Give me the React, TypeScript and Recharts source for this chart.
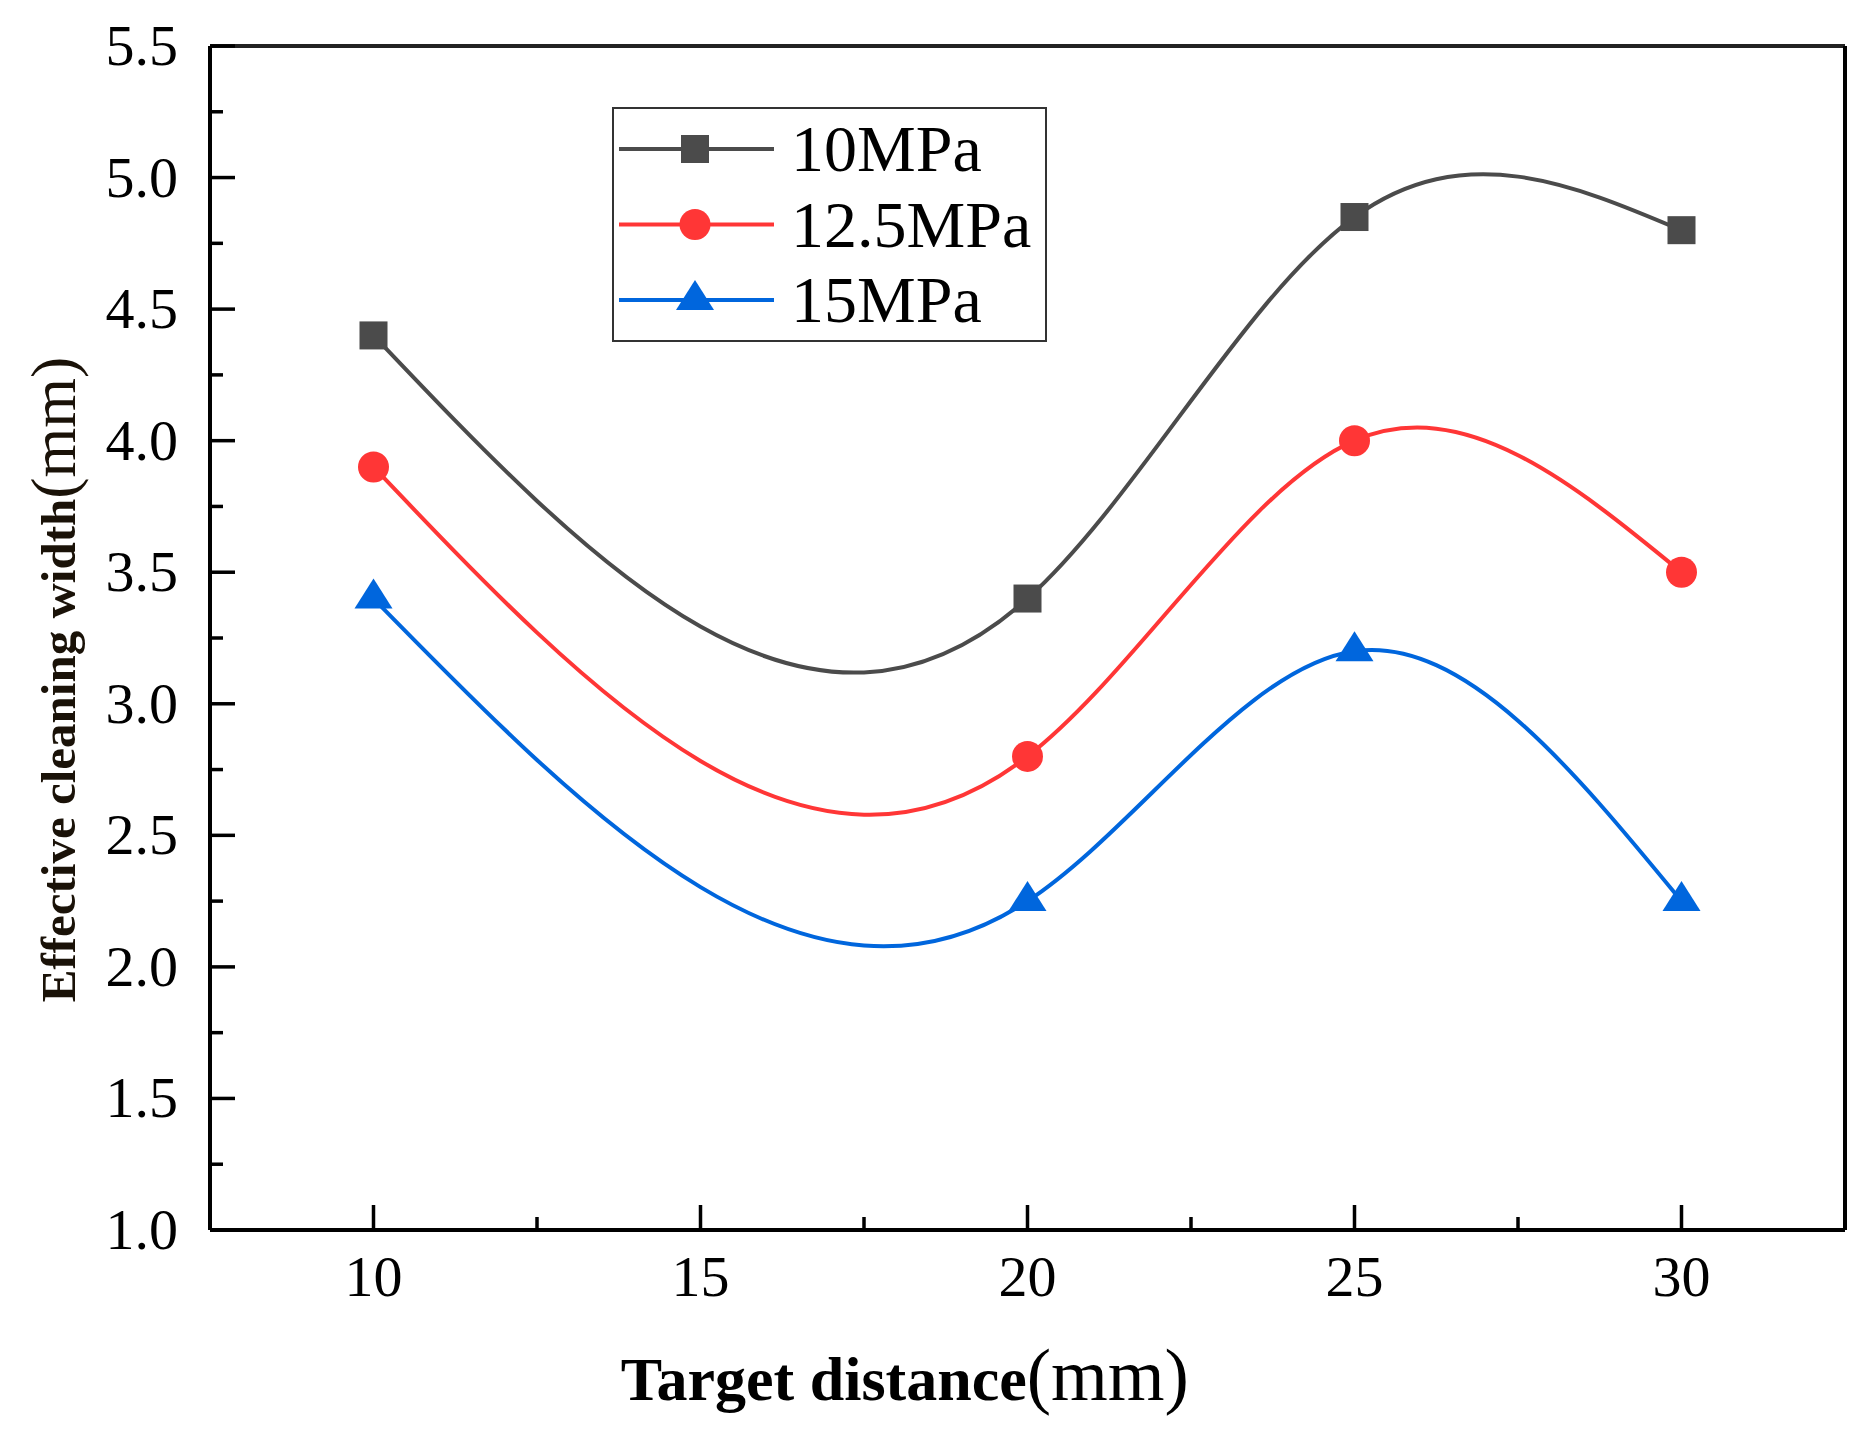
import { Label, Legend, Line, LineChart, ReferenceLine, XAxis, YAxis } from "recharts";

const distances = [10, 20, 25, 30];
const width10MPa = [4.4, 3.4, 4.85, 4.8];
const width125MPa = [3.9, 2.8, 4.0, 3.5];
const width15MPa = [3.4, 2.25, 3.2, 2.25];

const seriesNames = ["10MPa", "12.5MPa", "15MPa"];
const seriesKeys = ["p10", "p125", "p15"];
const seriesColors = ["#4b4b4b", "#ff3636", "#0066dd"];
const seriesShapes = ["square", "circle", "triangle"];

const xTicks = [10, 12.5, 15, 17.5, 20, 22.5, 25, 27.5, 30];
const xTickLabels = ["10", "15", "20", "25", "30"];
const yTicks = [1, 1.25, 1.5, 1.75, 2, 2.25, 2.5, 2.75, 3, 3.25, 3.5, 3.75, 4, 4.25, 4.5, 4.75, 5, 5.25, 5.5];
const yTickLabels = ["1.0", "1.5", "2.0", "2.5", "3.0", "3.5", "4.0", "4.5", "5.0", "5.5"];

const data = distances.map((d, i) => ({
  distance: d,
  p10: width10MPa[i],
  p125: width125MPa[i],
  p15: width15MPa[i],
}));

const FONT = "'Liberation Serif', 'Times New Roman', serif";
const X_TICK_GAP = 66;
const Y_TICK_GAP = 32;

// natural cubic spline in x (like Origin's spline connect)
const splineX = (context: any) => {
  let xs: number[] = [];
  let ys: number[] = [];
  return {
    areaStart() {},
    areaEnd() {},
    lineStart() {
      xs = [];
      ys = [];
    },
    point(x: number, y: number) {
      xs.push(+x);
      ys.push(+y);
    },
    lineEnd() {
      const n = xs.length;
      if (!n) return;
      context.moveTo(xs[0], ys[0]);
      if (n < 3) {
        for (let i = 1; i < n; i++) context.lineTo(xs[i], ys[i]);
        return;
      }
      const h: number[] = [];
      for (let i = 0; i < n - 1; i++) h.push(xs[i + 1] - xs[i]);
      const a: number[] = [];
      const b: number[] = [];
      const c: number[] = [];
      const r: number[] = [];
      for (let i = 1; i < n - 1; i++) {
        a.push(h[i - 1]);
        b.push(2 * (h[i - 1] + h[i]));
        c.push(h[i]);
        r.push(6 * ((ys[i + 1] - ys[i]) / h[i] - (ys[i] - ys[i - 1]) / h[i - 1]));
      }
      const m = r.length;
      for (let i = 1; i < m; i++) {
        const w = a[i] / b[i - 1];
        b[i] -= w * c[i - 1];
        r[i] -= w * r[i - 1];
      }
      const sol = new Array(m).fill(0);
      sol[m - 1] = r[m - 1] / b[m - 1];
      for (let i = m - 2; i >= 0; i--) sol[i] = (r[i] - c[i] * sol[i + 1]) / b[i];
      const M = [0, ...sol, 0];
      for (let i = 0; i < n - 1; i++) {
        const hi = h[i];
        const s = (ys[i + 1] - ys[i]) / hi;
        const d0 = s - (hi * (2 * M[i] + M[i + 1])) / 6;
        const d1 = s + (hi * (M[i] + 2 * M[i + 1])) / 6;
        context.bezierCurveTo(
          xs[i] + hi / 3,
          ys[i] + (d0 * hi) / 3,
          xs[i + 1] - hi / 3,
          ys[i + 1] - (d1 * hi) / 3,
          xs[i + 1],
          ys[i + 1]
        );
      }
    },
  };
};

const Marker = ({ shape, cx, cy, color }: { shape: string; cx: number; cy: number; color: string }) => {
  if (shape === "square")
    return <rect x={cx - 14} y={cy - 14} width={28} height={28} fill={color} />;
  if (shape === "circle") return <circle cx={cx} cy={cy} r={15.5} fill={color} />;
  return (
    <polygon
      points={`${cx},${cy - 20} ${cx - 19},${cy + 10} ${cx + 19},${cy + 10}`}
      fill={color}
    />
  );
};

const XTick = ({ x, y, payload }: any) => {
  const label = String(payload.value);
  const major = xTickLabels.includes(label);
  const axisY = y - X_TICK_GAP;
  return (
    <g>
      <line x1={x} x2={x} y1={axisY} y2={axisY - (major ? 25 : 13)} stroke="#000" strokeWidth={3.5} />
      {major && (
        <text x={x} y={y} textAnchor="middle" fontFamily={FONT} fontSize={58} fill="#000">
          {label}
        </text>
      )}
    </g>
  );
};

const YTick = ({ x, y, payload }: any) => {
  const label = Number(payload.value).toFixed(1);
  const major = yTickLabels.includes(label) && Math.abs(payload.value * 2 - Math.round(payload.value * 2)) < 1e-9;
  const axisX = x + Y_TICK_GAP;
  return (
    <g>
      <line x1={axisX} x2={axisX + (major ? 25 : 13)} y1={y} y2={y} stroke="#000" strokeWidth={3.5} />
      {major && (
        <text x={x} y={y + 19} textAnchor="end" fontFamily={FONT} fontSize={58} fill="#000">
          {label}
        </text>
      )}
    </g>
  );
};

const renderLegend = () => (
  <div
    style={{
      width: 435,
      height: 235,
      border: "2px solid #333",
      boxSizing: "border-box",
      background: "#fff",
    }}
  >
    <svg width={431} height={231} style={{ display: "block" }}>
      {seriesNames.map((name, i) => {
        const rowY = 40 + i * 75.5;
        return (
          <g key={name}>
            <line x1={5} x2={160} y1={rowY} y2={rowY} stroke={seriesColors[i]} strokeWidth={4} />
            <Marker shape={seriesShapes[i]} cx={81} cy={rowY} color={seriesColors[i]} />
            <text x={177} y={rowY + 22} fontFamily={FONT} fontSize={66} fill="#000">
              {name}
            </text>
          </g>
        );
      })}
    </svg>
  </div>
);

const XLabel = ({ viewBox }: any) => {
  const cx = viewBox.x + viewBox.width * 0.425;
  const cy = viewBox.y + 170;
  return (
    <text x={cx} y={cy} textAnchor="middle" fontFamily={FONT} fill="#000">
      <tspan fontSize={62} fontWeight="bold">Target distance</tspan>
      <tspan fontSize={73}>(mm)</tspan>
    </text>
  );
};

const YLabel = ({ viewBox }: any) => {
  const cx = 75;
  const cy = viewBox.y + viewBox.height * 0.535;
  return (
    <text
      x={cx}
      y={cy}
      textAnchor="middle"
      fontFamily={FONT}
      fill="#1a1208"
      transform={`rotate(-90, ${cx}, ${cy})`}
    >
      <tspan fontSize={49} fontWeight="bold">Effective cleaning width</tspan>
      <tspan fontSize={64}>(mm)</tspan>
    </text>
  );
};

export default function App() {
  return (
    <div style={{ position: "absolute", left: 0, top: 0, background: "#fff" }}>
      <LineChart
        width={1866}
        height={1434}
        data={data}
        margin={{ top: 46, right: 21, left: 0, bottom: 0 }}
      >
        <XAxis
          dataKey="distance"
          type="number"
          domain={[7.5, 32.5]}
          ticks={xTicks}
          interval={0}
          height={204}
          tickSize={0}
          tickMargin={X_TICK_GAP}
          tickLine={false}
          axisLine={{ stroke: "#000", strokeWidth: 4 }}
          tick={<XTick />}
          allowDataOverflow
        >
          <Label content={<XLabel />} />
        </XAxis>
        <YAxis
          type="number"
          domain={[1, 5.5]}
          ticks={yTicks}
          interval={0}
          width={210}
          tickSize={0}
          tickMargin={Y_TICK_GAP}
          tickLine={false}
          axisLine={{ stroke: "#000", strokeWidth: 4 }}
          tick={<YTick />}
          allowDataOverflow
        >
          <Label content={<YLabel />} />
        </YAxis>
        <ReferenceLine y={5.5} stroke="#222" strokeWidth={4} />
        <ReferenceLine x={32.5} stroke="#000" strokeWidth={4} />
        {seriesKeys.map((key, i) => (
          <Line
            key={key}
            dataKey={key}
            name={seriesNames[i]}
            type={splineX as any}
            stroke={seriesColors[i]}
            strokeWidth={4}
            isAnimationActive={false}
            dot={(p: any) => (
              <Marker
                key={`${key}-${p.index}`}
                shape={seriesShapes[i]}
                cx={p.cx}
                cy={p.cy}
                color={seriesColors[i]}
              />
            )}
            activeDot={false}
          />
        ))}
        <Legend
          layout="vertical"
          align="center"
          verticalAlign="middle"
          content={renderLegend}
          wrapperStyle={{ left: 612, top: 107, width: 435, height: 235 }}
        />
      </LineChart>
    </div>
  );
}
